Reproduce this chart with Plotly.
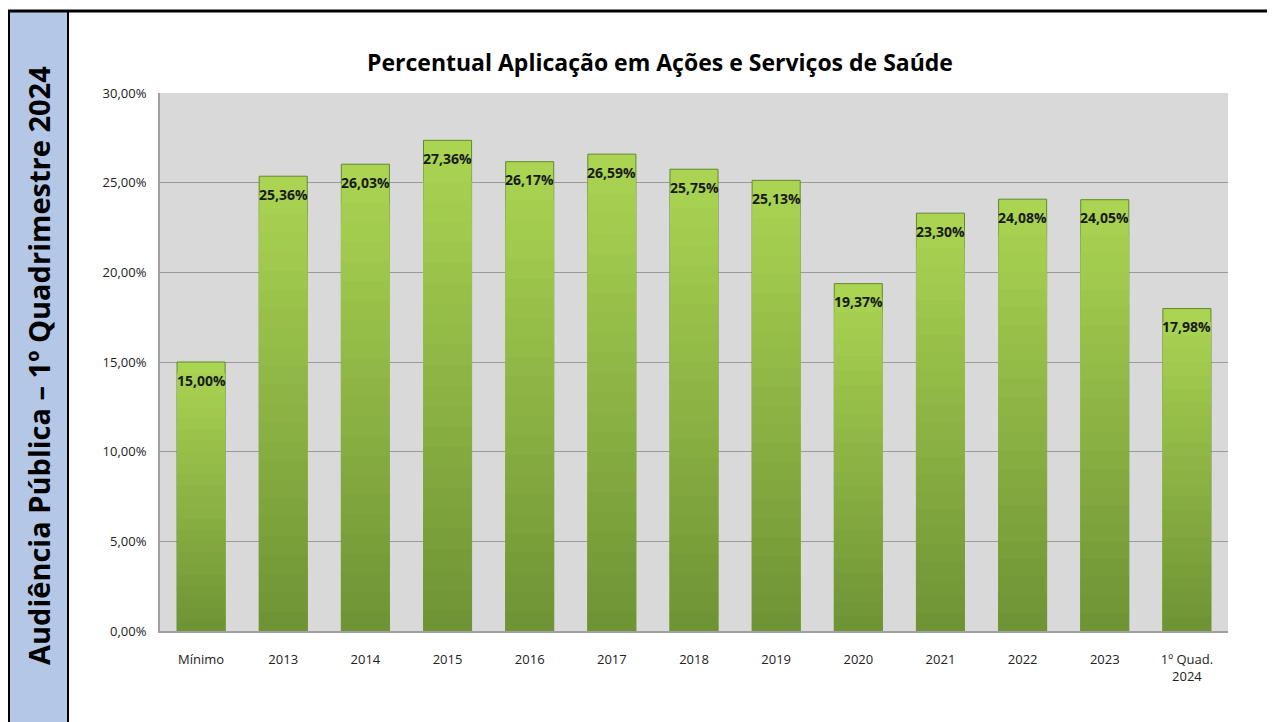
import plotly.graph_objects as go

categories = ["Mínimo", "2013", "2014", "2015", "2016", "2017", "2018", "2019",
              "2020", "2021", "2022", "2023", "1º Quad.<br>2024"]
values = [15.00, 25.36, 26.03, 27.36, 26.17, 26.59, 25.75, 25.13,
          19.37, 23.30, 24.08, 24.05, 17.98]
labels = ["15,00%", "25,36%", "26,03%", "27,36%", "26,17%", "26,59%", "25,75%", "25,13%",
          "19,37%", "23,30%", "24,08%", "24,05%", "17,98%"]
y_ticks = [0, 5, 10, 15, 20, 25, 30]
y_tick_text = ["0,00%", "5,00%", "10,00%", "15,00%", "20,00%", "25,00%", "30,00%"]

fig = go.Figure()

# stepped gradient: light at top, dark at bottom
steps = 24
top_rgb = (170, 212, 82)
bot_rgb = (108, 145, 52)
for k in range(steps, 0, -1):
    f = k / steps
    r = round(bot_rgb[0] + (top_rgb[0] - bot_rgb[0]) * f)
    g = round(bot_rgb[1] + (top_rgb[1] - bot_rgb[1]) * f)
    b = round(bot_rgb[2] + (top_rgb[2] - bot_rgb[2]) * f)
    fig.add_trace(go.Bar(
        x=categories, y=[v * f for v in values],
        marker=dict(color=f"rgb({r},{g},{b})",
                    line=dict(color="#5f8a2c" if k == steps else "rgba(0,0,0,0)",
                              width=1 if k == steps else 0)),
        hoverinfo="skip", showlegend=False,
    ))

# value labels (category index used as x position)
for i, (v, lab) in enumerate(zip(values, labels)):
    fig.add_annotation(x=i, y=v, text=f"<b>{lab}</b>", showarrow=False,
                       yshift=-18, font=dict(family="Open Sans", size=14, color="#1a1a1a"))

# left band and frame (window px converted to paper coords; plot area = 160..1228 x 93..631)
def px(x):
    return (x - 160) / 1068

def py(y):
    return (631 - y) / 538

ytop = py(11)
ybot = py(730)
fig.add_shape(type="rect", xref="paper", yref="paper", x0=px(10), x1=px(67), y0=ybot, y1=ytop,
              fillcolor="#b4c7e7", line=dict(width=0), layer="below")
fig.add_shape(type="line", xref="paper", yref="paper", x0=px(8), x1=px(1280),
              y0=ytop, y1=ytop, line=dict(color="black", width=3))
fig.add_shape(type="line", xref="paper", yref="paper", x0=px(9), x1=px(9),
              y0=ytop, y1=ybot, line=dict(color="black", width=2))
fig.add_shape(type="line", xref="paper", yref="paper", x0=px(68), x1=px(68),
              y0=ytop, y1=ybot, line=dict(color="black", width=2))
fig.add_annotation(xref="paper", yref="paper", x=px(38), y=py(366),
                   xanchor="center", yanchor="middle",
                   text="<b>Audiência Pública – 1º Quadrimestre 2024</b>", textangle=-90,
                   showarrow=False, font=dict(family="Open Sans", size=29, color="black"))
fig.add_annotation(xref="paper", yref="paper", x=px(660), y=py(62),
                   xanchor="center", yanchor="middle",
                   text="<b>Percentual Aplicação em Ações e Serviços de Saúde</b>",
                   showarrow=False, font=dict(family="Open Sans", size=23, color="black"))

fig.update_layout(
    width=1267, height=714,
    barmode="overlay", bargap=0.415,
    plot_bgcolor="#d9d9d9", paper_bgcolor="white",
    margin=dict(l=152, r=47, t=85, b=91),
    font=dict(family="Open Sans", size=13, color="#222"),
    xaxis=dict(type="category", showgrid=False, showline=True, linecolor="#a0a0a0", linewidth=2,
               tickfont=dict(size=13), ticks="outside", ticklen=15, tickcolor="rgba(0,0,0,0)",
               fixedrange=True),
    yaxis=dict(range=[0, 30], tickvals=y_ticks, ticktext=y_tick_text,
               showgrid=True, gridcolor="#9a9a9a", gridwidth=1,
               showline=True, linecolor="#a0a0a0", linewidth=2,
               zeroline=False, ticks="outside", ticklen=9, tickcolor="rgba(0,0,0,0)",
               tickfont=dict(size=13), fixedrange=True),
)
fig.write_html("out.html")
